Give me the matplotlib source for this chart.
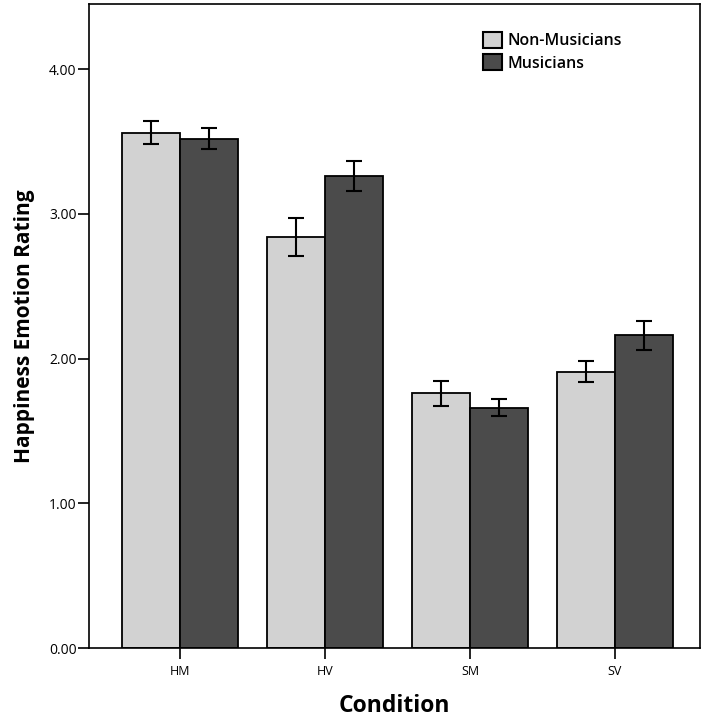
import numpy as np
from matplotlib import pyplot as plt
from matplotlib.patches import Patch

conditions = ['HM', 'HV', 'SM', 'SV']
non_musicians = [3.56, 2.84, 1.76, 1.91]
non_musicians_err = [0.08, 0.13, 0.085, 0.07]
musicians = [3.52, 3.26, 1.66, 2.16]
musicians_err = [0.075, 0.105, 0.06, 0.10]

LIGHT = '#d2d2d2'
DARK = '#4b4b4b'

plt.rcParams['font.family'] = ['Open Sans', 'DejaVu Sans']

fig = plt.figure(figsize=(7.03, 7.17), dpi=100)
ax = fig.add_axes([0.1266, 0.0962, 0.8691, 0.8982])

x = np.arange(len(conditions))
width = 0.4
err_kw = dict(ecolor='black', elinewidth=1.5, capsize=5.5, capthick=1.5)
ax.bar(x - width / 2, non_musicians, width, yerr=non_musicians_err, color=LIGHT,
       edgecolor='black', linewidth=1.3, error_kw=err_kw)
ax.bar(x + width / 2, musicians, width, yerr=musicians_err, color=DARK,
       edgecolor='black', linewidth=1.3, error_kw=err_kw)

ax.set_xlim(-0.628, 3.586)
ax.set_ylim(0, 4.45)
ax.set_yticks([0, 1, 2, 3, 4])
ax.set_yticklabels(['0.00', '1.00', '2.00', '3.00', '4.00'])
ax.set_xticks(x)
ax.set_xticklabels(conditions)
ax.tick_params(axis='y', direction='out', length=8, width=1.2, labelsize=10, colors='black', pad=1)
ax.tick_params(axis='x', direction='out', length=8, width=1.2, labelsize=9, pad=4)
for spine in ax.spines.values():
    spine.set_linewidth(1.2)

ax.set_xlabel('Condition', fontsize=16.5, fontweight='bold', labelpad=12)
ax.set_ylabel('Happiness Emotion Rating', fontsize=15, fontweight='bold', labelpad=10)

handles = [Patch(facecolor=LIGHT, edgecolor='black', linewidth=1.5, label='Non-Musicians'),
           Patch(facecolor=DARK, edgecolor='black', linewidth=1.5, label='Musicians')]
ax.legend(handles=handles, loc='upper left', bbox_to_anchor=(0.645, 0.957), frameon=False,
          prop={'size': 11.5, 'weight': 'semibold'}, handlelength=1.2, handleheight=1.2,
          handletextpad=0.35, labelspacing=0.3, borderaxespad=0, borderpad=0)

fig.savefig('out.png', dpi=100)
